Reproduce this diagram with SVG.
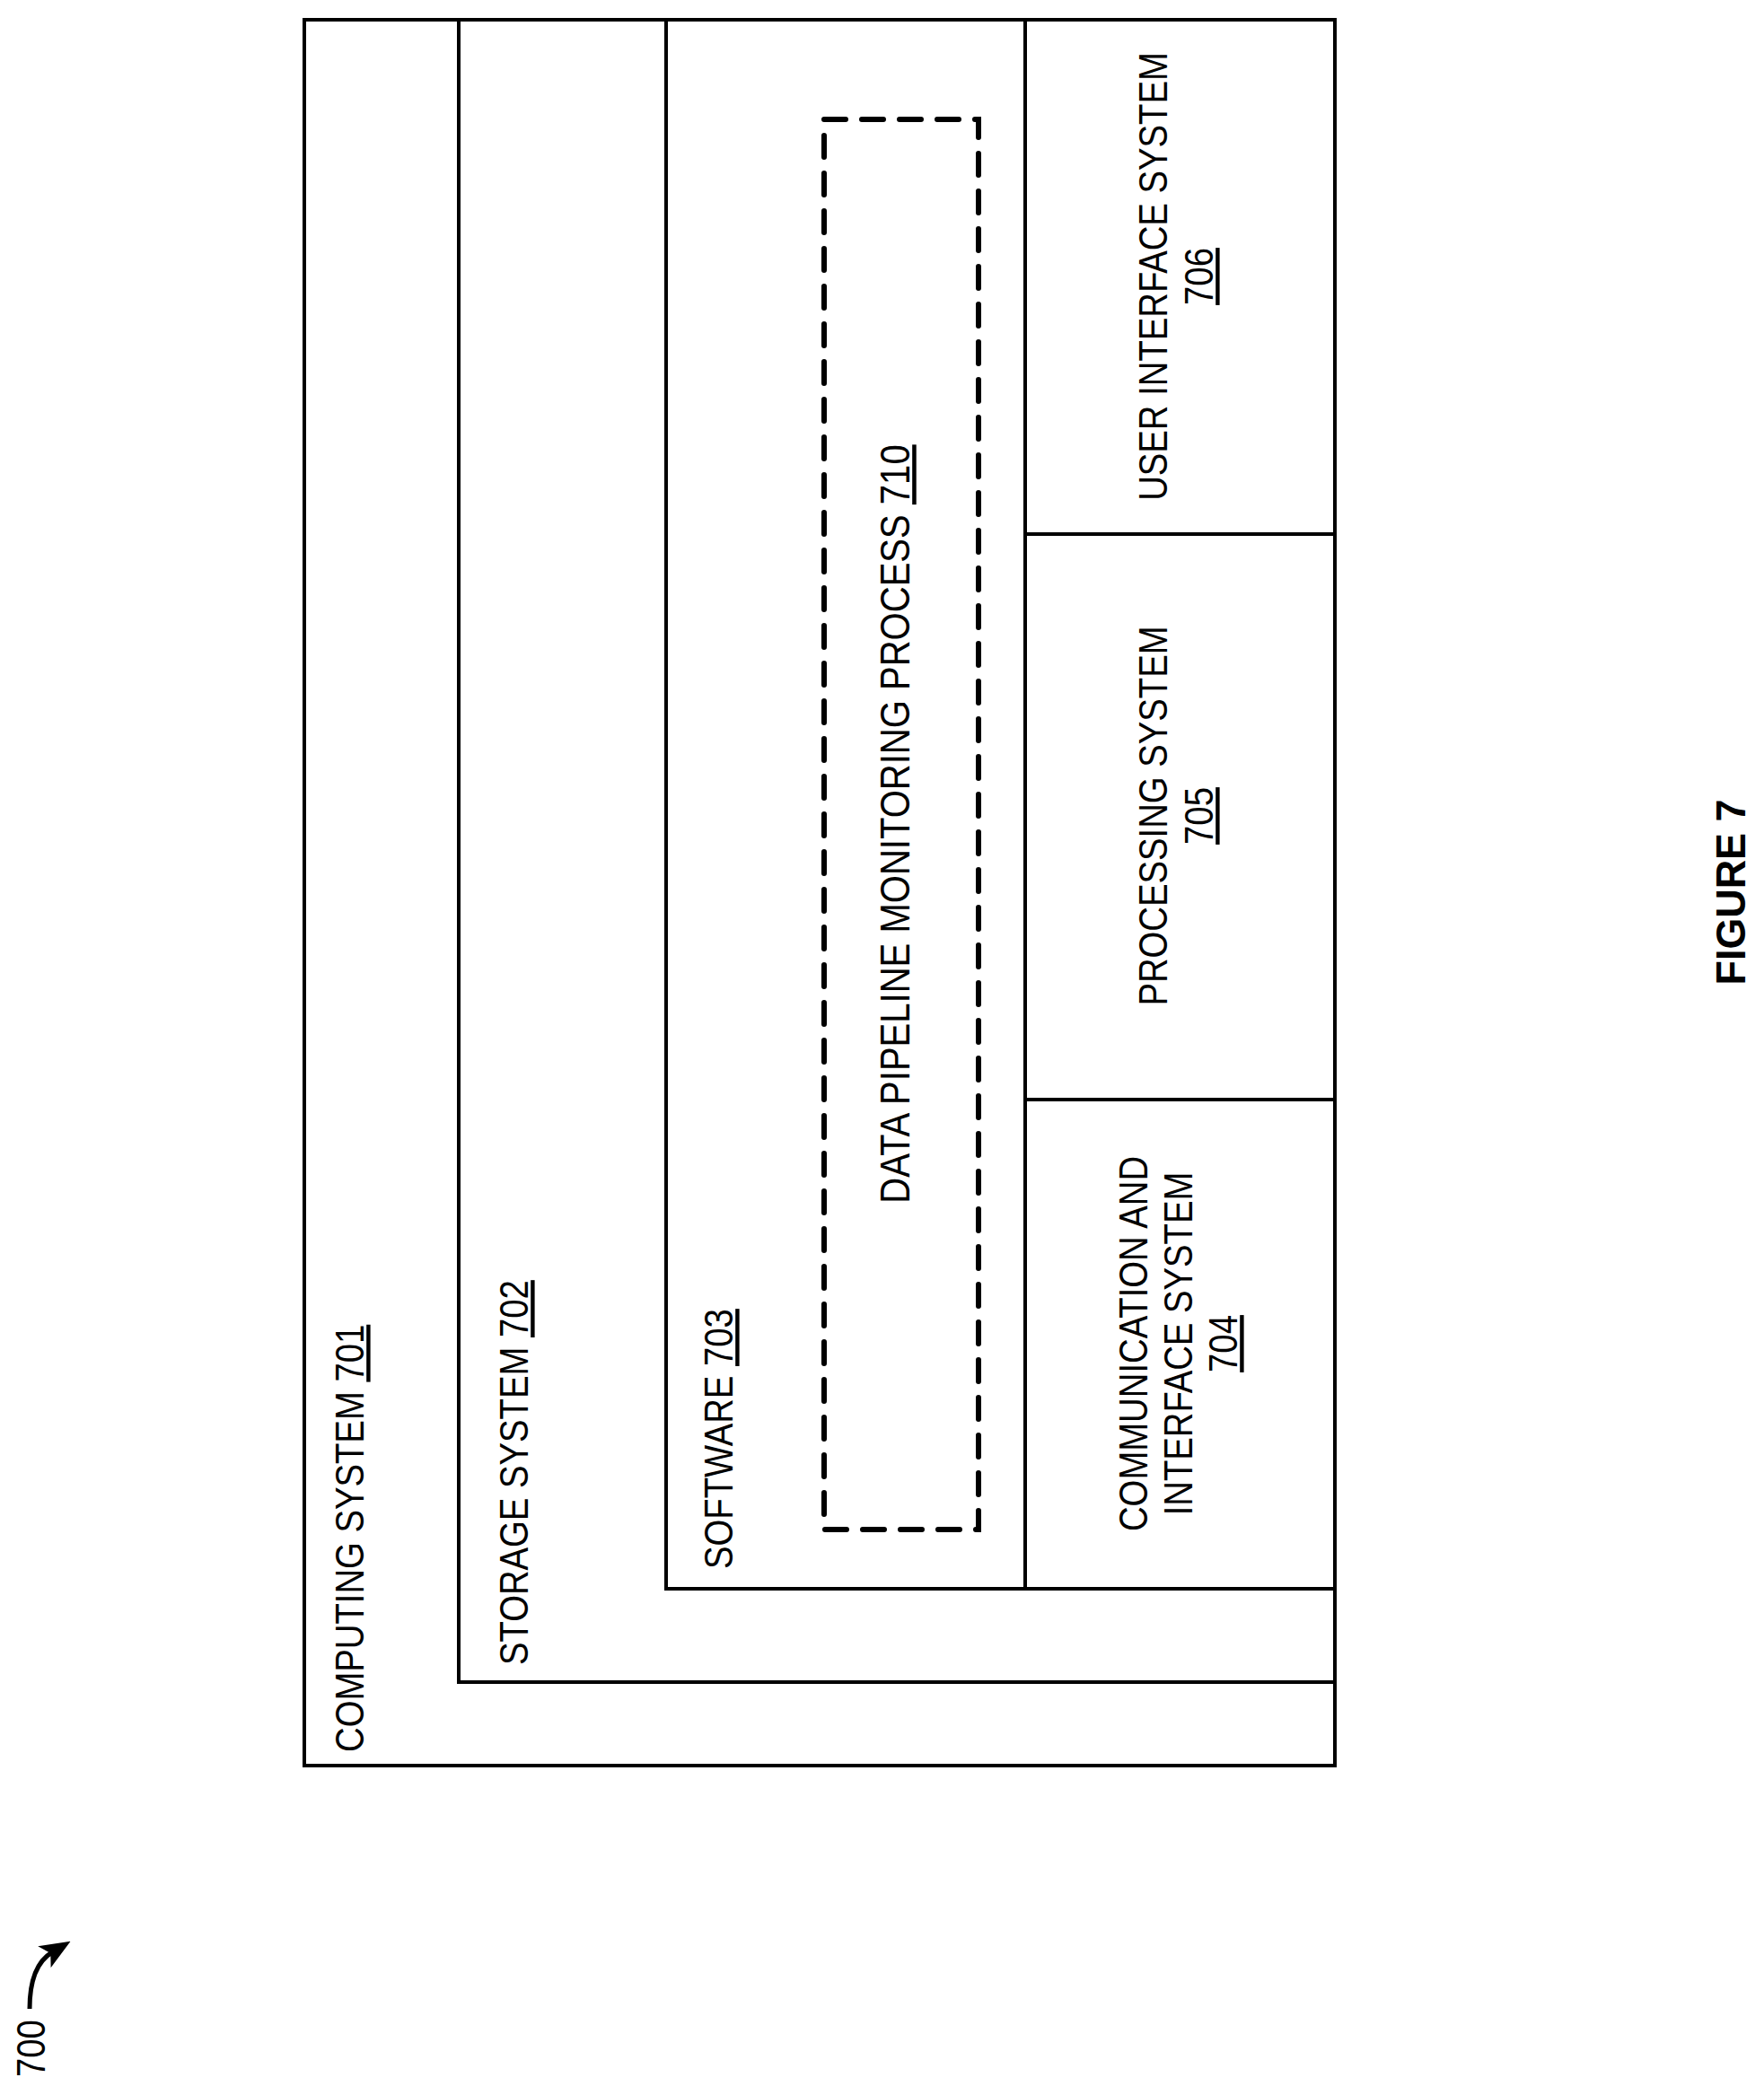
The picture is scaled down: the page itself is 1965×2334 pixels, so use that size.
<svg xmlns="http://www.w3.org/2000/svg" width="1965" height="2334" viewBox="0 0 1965 2334">
<style>
.b{fill:none;stroke:#000;stroke-width:4}
.t{font-family:"Liberation Sans",Arial,sans-serif;font-size:44px;fill:#000}
.u{text-decoration:underline}
</style>
<defs><marker id="ah" markerWidth="34" markerHeight="28" refX="10" refY="14" orient="auto" markerUnits="userSpaceOnUse" viewBox="0 0 34 28"><path d="M0,0 L34,14 L0,28 L8,14 z"/></marker></defs>
<rect width="1965" height="2334" fill="#fff"/>
<g id="computing"><rect class="b" x="339" y="22" width="1148" height="1945"/>
<text class="t" transform="translate(405,1952) rotate(-90) scale(0.87,1)">COMPUTING SYSTEM <tspan class="u">701</tspan></text></g>
<g id="storage"><rect class="b" x="511" y="22" width="976" height="1852"/>
<text class="t" transform="translate(588,1855) rotate(-90) scale(0.87,1)">STORAGE SYSTEM <tspan class="u">702</tspan></text></g>
<g id="software"><rect class="b" x="742" y="22" width="400" height="1748"/>
<text class="t" transform="translate(816,1748) rotate(-90) scale(0.87,1)">SOFTWARE <tspan class="u">703</tspan></text></g>
<g id="process"><rect x="918" y="133" width="172" height="1571" fill="none" stroke="#000" stroke-width="6" stroke-dasharray="24,18" stroke-linecap="round"/>
<text class="t" text-anchor="middle" transform="translate(1013,918) rotate(-90) scale(0.91,1.03)">DATA PIPELINE MONITORING PROCESS <tspan class="u">710</tspan></text></g>
<g id="comm"><rect class="b" x="1142" y="1225" width="345" height="545"/>
<text class="t" text-anchor="middle" transform="translate(1278,1497) rotate(-90) scale(0.87,1)">COMMUNICATION AND</text>
<text class="t" text-anchor="middle" transform="translate(1328,1497) rotate(-90) scale(0.87,1)">INTERFACE SYSTEM</text>
<text class="t u" text-anchor="middle" transform="translate(1378,1497) rotate(-90) scale(0.87,1)">704</text></g>
<g id="proc"><rect class="b" x="1142" y="595" width="345" height="630"/>
<text class="t" text-anchor="middle" transform="translate(1300,909) rotate(-90) scale(0.87,1)">PROCESSING SYSTEM</text>
<text class="t u" text-anchor="middle" transform="translate(1351,909) rotate(-90) scale(0.87,1)">705</text></g>
<g id="ui"><rect class="b" x="1142" y="22" width="345" height="573"/>
<text class="t" text-anchor="middle" transform="translate(1300,308) rotate(-90) scale(0.87,1)">USER INTERFACE SYSTEM</text>
<text class="t u" text-anchor="middle" transform="translate(1351,308) rotate(-90) scale(0.87,1)">706</text></g>
<text class="t" font-weight="bold" font-size="50" text-anchor="middle" transform="translate(1944,994) rotate(-90) scale(1.02,1.05)">FIGURE 7</text>
<g id="connectors"><path d="M33,2238 Q33,2190 58,2175" fill="none" stroke="#000" stroke-width="5" marker-end="url(#ah)"/></g>
<text class="t" font-size="42" transform="translate(50,2314) rotate(-90) scale(0.87,1)">700</text>
</svg>
